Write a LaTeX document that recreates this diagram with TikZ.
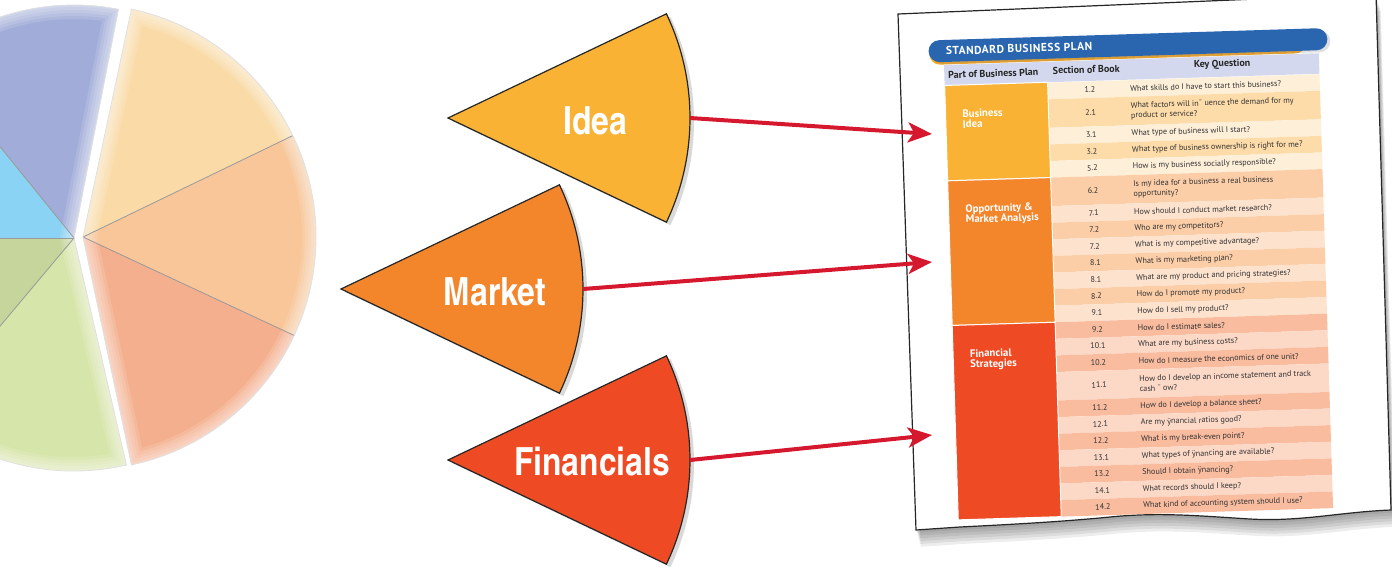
\documentclass[tikz,border=0pt]{standalone}
\usepackage{fontspec}
\newfontfamily\tabfont{PT Sans}
\newfontfamily\cnfont{texgyreheroscn-bold.otf}
\usetikzlibrary{shadows, arrows.meta}

\definecolor{ideaorange}{HTML}{F9B233}
\definecolor{marketorange}{HTML}{F3852B}
\definecolor{finred}{HTML}{EE4A24}
\definecolor{arrowred}{HTML}{D6182F}
\definecolor{planblue}{HTML}{2A66B0}
\definecolor{planstripe}{HTML}{F7A823}
\definecolor{headlilac}{HTML}{D3D8EE}
\definecolor{bizpale}{HTML}{FEEFD9}
\definecolor{bizdark}{HTML}{FDDCA9}
\definecolor{mktpale}{HTML}{FDE2CE}
\definecolor{mktdark}{HTML}{FCCEA8}
\definecolor{finpale}{HTML}{FCD8C6}
\definecolor{findark}{HTML}{F9BC9F}
\definecolor{pieyellow}{HTML}{FADBA7}
\definecolor{pieapricot}{HTML}{F8C699}
\definecolor{piesalmon}{HTML}{F4AF8E}
\definecolor{pielilac}{HTML}{A1ADD8}
\definecolor{piesky}{HTML}{8AD3F4}
\definecolor{pieolive}{HTML}{C5D59C}
\definecolor{piegreen}{HTML}{D6E5A9}

\tikzset{
	wedge/.style={draw=black!85, line width=0.6pt, drop shadow={shadow xshift=2pt, shadow yshift=-1.5pt, opacity=0.25, fill=black!60}},
	wedgelabel/.style={text=white, font=\cnfont\fontsize{19.4}{20}\selectfont, inner sep=0pt},
	link/.style={arrowred, line width=2pt, -{Stealth[length=12pt, width=10pt, inset=3pt]}},
	qtext/.style={font=\tabfont\fontsize{4.1}{5}\selectfont, text=black!80, inner sep=0pt},
	colhead/.style={font=\tabfont\bfseries\fontsize{5}{6}\selectfont, text=black!85, inner sep=0pt},
	catlabel/.style={font=\tabfont\bfseries\fontsize{5.4}{5.25}\selectfont, text=white, inner sep=0pt, anchor=north west, align=left},
	titletext/.style={font=\tabfont\bfseries\fontsize{5.7}{6}\selectfont\addfontfeatures{LetterSpace=5}, text=white, inner sep=0pt},
	divider/.style={draw=black!40, line width=0.4pt},
}

\def\sheetpath{(898,14) -- (1376,-6) -- (1391,510) .. controls (1340,512) and (1300,522) .. (1250,519) .. controls (1200,516) and (1160,512) .. (1110,517) .. controls (1060,522) and (1000,525) .. (960,527) -- (916,530) -- cycle}

\begin{document}
\begin{tikzpicture}[x=0.5pt, y=-0.5pt]
	\useasboundingbox (0,0) rectangle (1392,567);
	\clip (0,0) rectangle (1392,567);

	%pie, left half
	\coordinate (pl) at (74,238);
	\foreach \a/\b/\c in {77/130/piegreen, 130/180/pieolive, 180/231/piesky, 231/281/pielilac}{
		\fill[\c] (pl) -- ++(\a:233) arc[start angle=\a, end angle=\b, radius=233] -- cycle;
	}
	\begin{scope}
		\clip (pl) -- ++(77:233) arc[start angle=77, end angle=281, radius=233] -- cycle;
		\foreach \w in {14,11,8,5,2}{
			\draw[white, line width=\w pt, opacity=0.13] (pl) -- ++(77:233) arc[start angle=77, end angle=281, radius=233] -- cycle;
		}
	\end{scope}
	\foreach \a in {130, 180, 231}{
		\draw[divider] (pl) -- ++(\a:233);
	}
	\draw[black!12, line width=0.4pt] (pl) -- ++(77:233) arc[start angle=77, end angle=281, radius=233] -- cycle;

	%pie, right half
	\coordinate (pr) at (83,237);
	\foreach \a/\b/\c in {-78/-25.8/pieyellow, -25.8/25/pieapricot, 25/78/piesalmon}{
		\fill[\c] (pr) -- ++(\a:233) arc[start angle=\a, end angle=\b, radius=233] -- cycle;
	}
	\begin{scope}
		\clip (pr) -- ++(-78:233) arc[start angle=-78, end angle=78, radius=233] -- cycle;
		\foreach \w in {14,11,8,5,2}{
			\draw[white, line width=\w pt, opacity=0.13] (pr) -- ++(-78:233) arc[start angle=-78, end angle=78, radius=233] -- cycle;
		}
	\end{scope}
	\foreach \a in {-25.8, 25}{
		\draw[divider] (pr) -- ++(\a:233);
	}
	\draw[black!12, line width=0.4pt] (pr) -- ++(-78:233) arc[start angle=-78, end angle=78, radius=233] -- cycle;

	%wedges
	\coordinate (idea-c) at (448,118);
	\coordinate (market-c) at (341,289);
	\coordinate (fin-c) at (448,460);
	\filldraw[wedge, fill=ideaorange] (idea-c) -- ++(-25.5:242) arc[start angle=-25.5, end angle=25.5, radius=242] -- cycle;
	\filldraw[wedge, fill=marketorange] (market-c) -- ++(-25.5:242) arc[start angle=-25.5, end angle=25.5, radius=242] -- cycle;
	\filldraw[wedge, fill=finred] (fin-c) -- ++(-25.5:242) arc[start angle=-25.5, end angle=25.5, radius=242] -- cycle;
	\node[wedgelabel] (idea) at (595,121) {Idea};
	\node[wedgelabel] (market) at (495,292) {Market};
	\node[wedgelabel] (fin) at (592,462) {Financials};
	\coordinate (idea-e) at (690,118);
	\coordinate (market-e) at (583,289);
	\coordinate (fin-e) at (690,460);

	%sheet with shadow
	\foreach \s in {1,...,6}{
		\fill[black, opacity=0.07, shift={(\s*0.8,\s*2.8)}] \sheetpath;
	}
	\filldraw[fill=white, draw=black!85, line width=0.6pt] \sheetpath;

	%table
	\begin{scope}[shift={(944,65)}, rotate=1.8, transform shape]
		\fill[planstripe, rounded corners=5pt] (-14,-22) rectangle (362,-0.5);
		\fill[planblue, rounded corners=5.5pt, drop shadow={shadow xshift=1.5pt, shadow yshift=-1pt, opacity=0.25}] (-15,-25) rectangle (384,-3);
		\node[titletext, anchor=west] (title) at (2,-14) {STANDARD BUSINESS PLAN};

		\fill[headlilac] (0,0) rectangle (375,20.5);
		\node[colhead] (h-part) at (49,10) {Part of Business Plan};
		\node[colhead] (h-sec) at (142,9) {Section of Book};
		\node[colhead] (h-key) at (278,8) {Key Question};

		\foreach \ya/\hb/\rc/\sec/\q [count=\i] in {
			21.0/16.6/bizpale/1.2/{What skills do I have to start this business?},
			37.6/28.5/bizdark/2.1/{What factors will in¯ uence the demand for my\\product or service?},
			66.1/16.6/bizpale/3.1/{What type of business will I start?},
			82.7/16.6/bizdark/3.2/{What type of business ownership is right for me?},
			99.3/16.6/bizpale/5.2/{How is my business socially responsible?},
			115.9/28.5/mktdark/6.2/{Is my idea for a business a real business\\opportunity?},
			144.4/16.6/mktpale/7.1/{How should I conduct market research?},
			161.0/16.6/mktdark/7.2/{Who are my competitors?},
			177.6/16.6/mktpale/7.2/{What is my competitive advantage?},
			194.2/16.6/mktdark/8.1/{What is my marketing plan?},
			210.8/16.6/mktpale/8.1/{What are my product and pricing strategies?},
			227.4/16.6/mktdark/8.2/{How do I promote my product?},
			244.0/16.6/mktpale/9.1/{How do I sell my product?},
			260.6/16.6/findark/9.2/{How do I estimate sales?},
			277.2/16.6/finpale/10.1/{What are my business costs?},
			293.8/16.6/findark/10.2/{How do I measure the economics of one unit?},
			310.4/28.5/finpale/11.1/{How do I develop an income statement and track\\cash ¯ ow?},
			338.9/16.6/findark/11.2/{How do I develop a balance sheet?},
			355.5/16.6/finpale/12.1/{Are my ÿnancial ratios good?},
			372.1/16.6/findark/12.2/{What is my break-even point?},
			388.7/16.6/finpale/13.1/{What types of ÿnancing are available?},
			405.3/16.6/findark/13.2/{Should I obtain ÿnancing?},
			421.9/16.6/finpale/14.1/{What records should I keep?},
			438.5/16.6/findark/14.2/{What kind of accounting system should I use?}}{
			\fill[\rc] (103,\ya) rectangle (375,\ya+\hb);
			\node[qtext] (sec\i) at (145,\ya+\hb/2) {\sec};
			\node[qtext, anchor=west, align=left] (q\i) at (185,\ya+\hb/2) {\q};
		}

		\filldraw[fill=ideaorange, draw=white, line width=0.5pt] (0,20.5) rectangle (103,115.9);
		\filldraw[fill=marketorange, draw=white, line width=0.5pt] (0,115.9) rectangle (103,260.6);
		\filldraw[fill=finred, draw=white, line width=0.5pt] (0,260.6) rectangle (103,455.1);
		\node[catlabel] (c-idea) at (16.5,45) {Business\\Idea};
		\node[catlabel] (c-market) at (16.5,140) {Opportunity \&\\Market Analysis};
		\node[catlabel] (c-fin) at (16.5,285) {Financial\\Strategies};
	\end{scope}

	%links
	\coordinate (to-idea) at (932,134);
	\coordinate (to-market) at (932,262);
	\coordinate (to-fin) at (932,435);
	\draw[link] (idea-e) -- (to-idea);
	\draw[link] (market-e) -- (to-market);
	\draw[link] (fin-e) -- (to-fin);
\end{tikzpicture}
\end{document}
